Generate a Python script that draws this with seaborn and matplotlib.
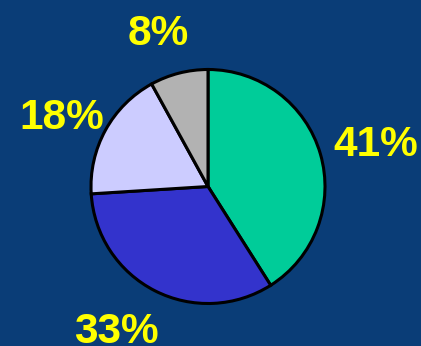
import matplotlib
matplotlib.use("Agg")
import matplotlib.pyplot as plt
import seaborn as sns

# Share of each category (percent), drawn clockwise from 12 o'clock
categories = ["A", "B", "C", "D"]
shares = [41, 33, 18, 8]
slice_colors = ["#00CC99", "#3333CC", "#CCCCFF", "#B2B2B2"]

# Small nudges (in pie-radius units) applied to each percentage label
label_nudge = [(0.09, 0.0), (-0.15, 0.045), (-0.02, -0.05), (-0.08, -0.01)]

sns.set_style("white")
plt.rcParams["font.family"] = ["Liberation Sans", "DejaVu Sans"]

bg = "#0A3D77"
W, H = 421, 346
fig = plt.figure(figsize=(W / 100, H / 100), dpi=100, facecolor=bg)

cx, cy, r = 208, 186.5, 117
ax = fig.add_axes([(cx - r) / W, (H - cy - r) / H, 2 * r / W, 2 * r / H])
ax.set_facecolor(bg)

palette = sns.color_palette(slice_colors)
wedges, texts, autotexts = ax.pie(
    shares,
    colors=palette,
    startangle=90,
    counterclock=False,
    autopct=lambda p: f"{p:.0f}%",
    pctdistance=1.40,
    wedgeprops=dict(edgecolor="black", linewidth=2.2),
    textprops=dict(color="#FFFF00", fontsize=30.5, fontweight="bold"),
)
for t, (dx, dy) in zip(autotexts, label_nudge):
    x, y = t.get_position()
    t.set_position((x + dx, y + dy))
    t.set_va("center_baseline")

ax.set_xlim(-1, 1)
ax.set_ylim(-1, 1)
ax.set_aspect("equal")
ax.axis("off")

fig.savefig("out.png", dpi=100, facecolor=bg)
